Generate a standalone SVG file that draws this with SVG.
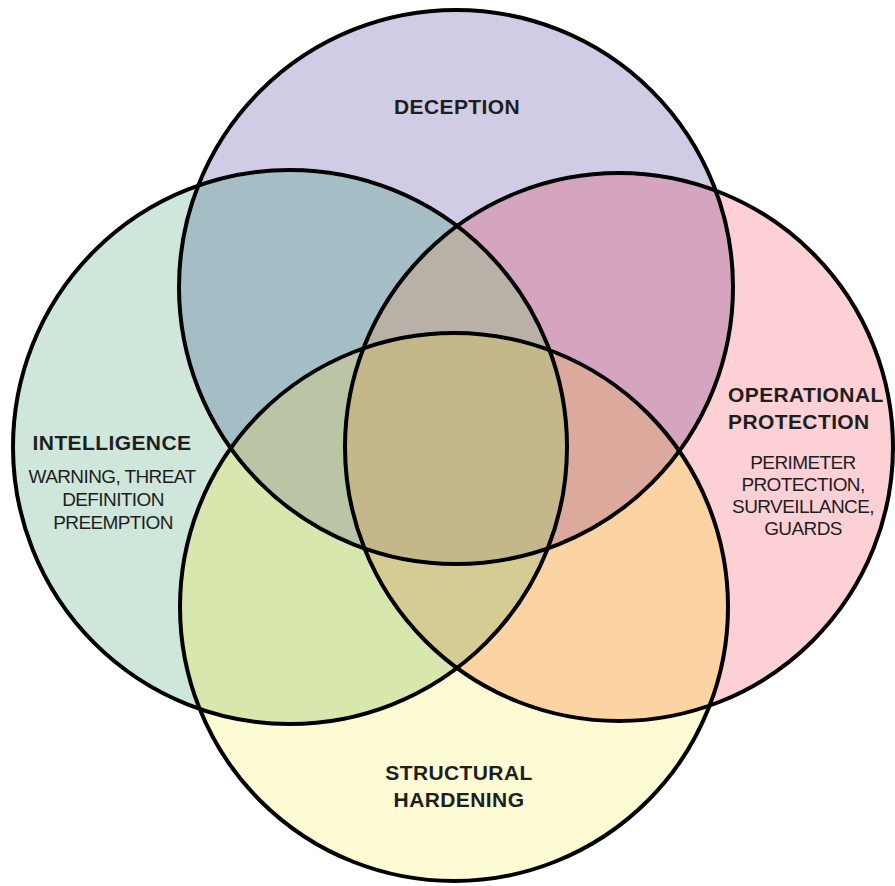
<svg xmlns="http://www.w3.org/2000/svg" width="895" height="886" viewBox="0 0 895 886">
<style>
.outline{fill:none;stroke:#000;stroke-width:4}
.t{font-family:"Liberation Sans",Arial,sans-serif;fill:#1e1e1e}
.b{font-weight:bold;font-size:21px;letter-spacing:0.4px}
.r{font-size:19px;letter-spacing:-0.6px}
</style>
<defs>
<clipPath id="cT"><circle cx="456" cy="287" r="277"/></clipPath>
<clipPath id="cL"><circle cx="290" cy="447" r="277"/></clipPath>
<clipPath id="cR"><circle cx="619" cy="447" r="274"/></clipPath>
<clipPath id="cB"><circle cx="454" cy="607" r="274"/></clipPath>
</defs>
<rect width="895" height="886" fill="#fff"/>
<g id="fills">
<circle cx="456" cy="287" r="277" fill="#d1cce6"/>
<circle cx="290" cy="447" r="277" fill="#cfe6da"/>
<circle cx="619" cy="447" r="274" fill="#fdd0d6"/>
<circle cx="454" cy="607" r="274" fill="#fcfbd3"/>
<g clip-path="url(#cT)"><circle cx="290" cy="447" r="277" fill="#a5bec6"/></g>
<g clip-path="url(#cT)"><circle cx="619" cy="447" r="274" fill="#d5a4bf"/></g>
<g clip-path="url(#cB)"><circle cx="290" cy="447" r="277" fill="#d8e7ad"/></g>
<g clip-path="url(#cB)"><circle cx="619" cy="447" r="274" fill="#fcd3a2"/></g>
<g clip-path="url(#cT)"><g clip-path="url(#cL)"><circle cx="619" cy="447" r="274" fill="#b9b1a7"/></g></g>
<g clip-path="url(#cT)"><g clip-path="url(#cL)"><circle cx="454" cy="607" r="274" fill="#b9c5a5"/></g></g>
<g clip-path="url(#cT)"><g clip-path="url(#cR)"><circle cx="454" cy="607" r="274" fill="#dbaa9c"/></g></g>
<g clip-path="url(#cL)"><g clip-path="url(#cR)"><circle cx="454" cy="607" r="274" fill="#d5cc93"/></g></g>
<g clip-path="url(#cT)"><g clip-path="url(#cL)"><g clip-path="url(#cR)"><circle cx="454" cy="607" r="274" fill="#c4b88b"/></g></g></g>
</g>
<g id="deception">
<circle class="outline" cx="456" cy="287" r="277"/>
<text class="t b" x="457" y="114" text-anchor="middle">DECEPTION</text>
</g>
<g id="intelligence">
<circle class="outline" cx="290" cy="447" r="277"/>
<text class="t b" x="112" y="450" text-anchor="middle">INTELLIGENCE</text>
<text class="t r" x="112" y="483" text-anchor="middle">WARNING, THREAT</text>
<text class="t r" x="113" y="506" text-anchor="middle">DEFINITION</text>
<text class="t r" x="113" y="529" text-anchor="middle">PREEMPTION</text>
</g>
<g id="operational-protection">
<circle class="outline" cx="619" cy="447" r="274"/>
<text class="t b" x="728" y="402">OPERATIONAL</text>
<text class="t b" x="728" y="429">PROTECTION</text>
<text class="t r" x="803" y="469" text-anchor="middle">PERIMETER</text>
<text class="t r" x="803" y="491" text-anchor="middle">PROTECTION,</text>
<text class="t r" x="803" y="513" text-anchor="middle">SURVEILLANCE,</text>
<text class="t r" x="803" y="535" text-anchor="middle">GUARDS</text>
</g>
<g id="structural-hardening">
<circle class="outline" cx="454" cy="607" r="274"/>
<text class="t b" x="459" y="780" text-anchor="middle">STRUCTURAL</text>
<text class="t b" x="459" y="807" text-anchor="middle">HARDENING</text>
</g>
<g id="connectors"/>
</svg>
